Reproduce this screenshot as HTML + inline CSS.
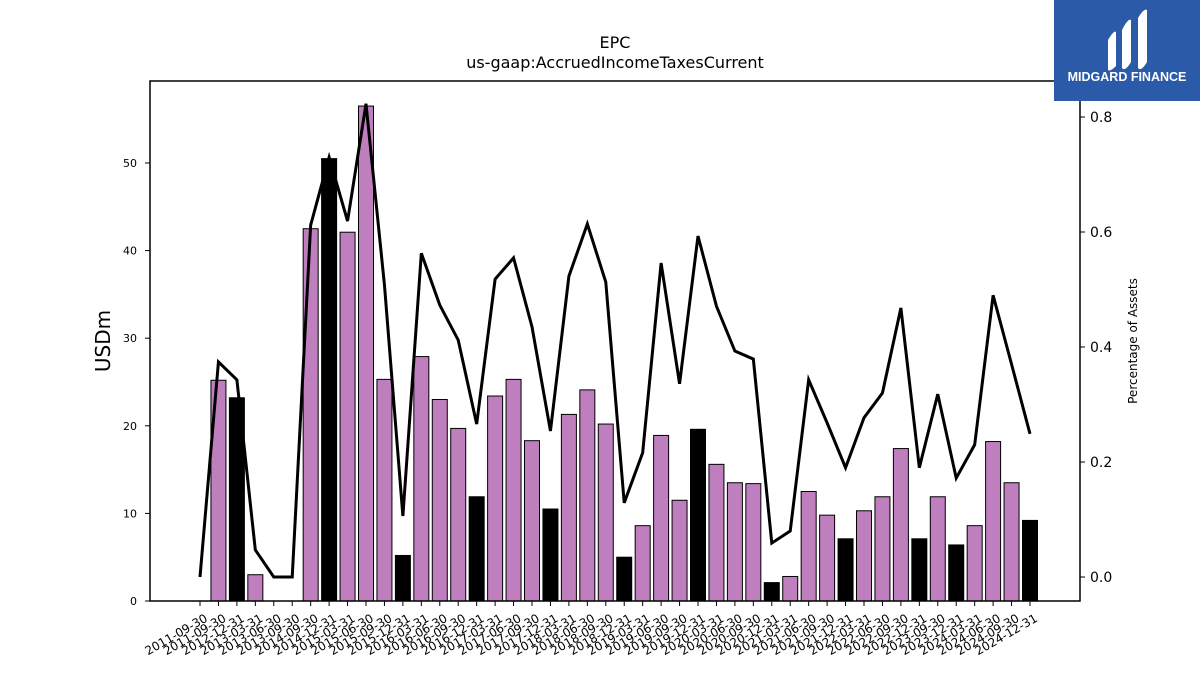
<!DOCTYPE html>
<html><head><meta charset="utf-8"><style>
body{margin:0;background:#fff;font-family:"Liberation Sans","DejaVu Sans",sans-serif;}
</style></head><body>
<svg id="c" width="1200" height="675" xmlns="http://www.w3.org/2000/svg" font-family="DejaVu Sans, Liberation Sans, sans-serif">
<text x="615" y="48" text-anchor="middle" font-size="16">EPC</text>
<text x="615" y="68" text-anchor="middle" font-size="16">us-gaap:AccruedIncomeTaxesCurrent</text>
<g id="bars"></g>
<g id="xt"></g>
<g id="yl"></g>
<g id="yr"></g>
<polyline id="line" fill="none" stroke="#000" stroke-width="3"/>
<rect x="150" y="81" width="930" height="520" fill="none" stroke="#000" stroke-width="1.5"/>
<text transform="translate(110,341) rotate(-90)" text-anchor="middle" font-size="20">USDm</text>
<text transform="translate(1137,341) rotate(-90)" text-anchor="middle" font-size="12">Percentage of Assets</text>
<g>
<rect x="1054" y="0" width="146" height="101" fill="#2b5aa9"/>
<path d="M1108 40 Q1114 30 1116 32 L1116 66 Q1110 72 1108 70 Z" fill="#fff"/>
<path d="M1122 30 Q1128 18 1131 20 L1131 62 Q1125 72 1122 68 Z" fill="#fff"/>
<path d="M1138 18 Q1144 8 1147 10 L1147 62 Q1141 72 1138 68 Z" fill="#fff"/>
<text x="1127" y="81" text-anchor="middle" font-size="12.5" font-weight="bold" fill="#fff" font-family="Liberation Sans, sans-serif">MIDGARD FINANCE</text>
</g>
</svg>
<script>
const labels=["2011-09-30","2011-09-30","2012-12-31","2013-03-31","2013-06-30","2013-09-30","2014-09-30","2014-12-31","2015-03-31","2015-06-30","2015-09-30","2015-12-31","2016-03-31","2016-06-30","2016-09-30","2016-12-31","2017-03-31","2017-06-30","2017-09-30","2017-12-31","2018-03-31","2018-06-30","2018-09-30","2018-12-31","2019-03-31","2019-06-30","2019-09-30","2019-12-31","2020-03-31","2020-06-30","2020-09-30","2020-12-31","2021-03-31","2021-06-30","2021-09-30","2021-12-31","2022-03-31","2022-06-30","2022-09-30","2022-12-31","2023-09-30","2023-12-31","2024-03-31","2024-06-30","2024-09-30","2024-12-31"];
const values=[0,25.2,23.2,3,0,0,42.5,50.5,42.1,56.5,25.3,5.2,27.9,23,19.7,11.9,23.4,25.3,18.3,10.5,21.3,24.1,20.2,5,8.6,18.9,11.5,19.6,15.6,13.5,13.4,2.1,2.8,12.5,9.8,7.1,10.3,11.9,17.4,7.1,11.9,6.4,8.6,18.2,13.5,9.2];
const pct=[0,0.374,0.343,0.047,0,0,0.612,0.73,0.619,0.823,0.508,0.106,0.563,0.473,0.412,0.266,0.518,0.555,0.435,0.254,0.523,0.614,0.513,0.129,0.216,0.546,0.336,0.593,0.471,0.393,0.379,0.059,0.08,0.343,0.268,0.19,0.277,0.32,0.468,0.19,0.318,0.172,0.23,0.49,0.37,0.249];
const leftTicks=[0,10,20,30,40,50];
const rightTicks=[0.0,0.2,0.4,0.6,0.8];
const NS="http://www.w3.org/2000/svg";
const x=i=>200+i*(1030-200)/(labels.length-1);
const yL=v=>601-v*8.76;
const yR=v=>577-v*575;
function mk(t,a,p){const e=document.createElementNS(NS,t);for(const k in a)e.setAttribute(k,a[k]);p.appendChild(e);return e;}
const bars=document.getElementById('bars');
values.forEach((v,i)=>{
 if(v<=0)return;
 const r=mk('rect',{x:x(i)-7.5,y:yL(v),width:15,height:yL(0)-yL(v),fill:labels[i].endsWith('12-31')?'#000':'#bf7fbf',stroke:'#000','stroke-width':1},bars);
 
 
});
const xt=document.getElementById('xt');
labels.forEach((l,i)=>{
 mk('line',{x1:x(i),x2:x(i),y1:601,y2:606,stroke:'#000'},xt);
 const t=mk('text',{transform:`translate(${x(i)+4},${613}) rotate(-30)`,'text-anchor':'end','font-size':12,'dominant-baseline':'hanging'},xt);
 t.textContent=l;
 
 
});
const yl=document.getElementById('yl');
leftTicks.forEach(v=>{
 mk('line',{x1:145,x2:150,y1:yL(v),y2:yL(v),stroke:'#000'},yl);
 const t=mk('text',{x:137,y:yL(v)+4,'text-anchor':'end','font-size':11},yl);
 t.textContent=v;
 
 
});
const yr=document.getElementById('yr');
rightTicks.forEach(v=>{
 mk('line',{x1:1080,x2:1085,y1:yR(v),y2:yR(v),stroke:'#000'},yr);
 const t=mk('text',{x:1090,y:yR(v)+5,'font-size':14},yr);
 t.textContent=v.toFixed(1);
 
 
});
document.getElementById('line').setAttribute('points',pct.map((p,i)=>x(i)+','+yR(p)).join(' '));
</script>
</body></html>
